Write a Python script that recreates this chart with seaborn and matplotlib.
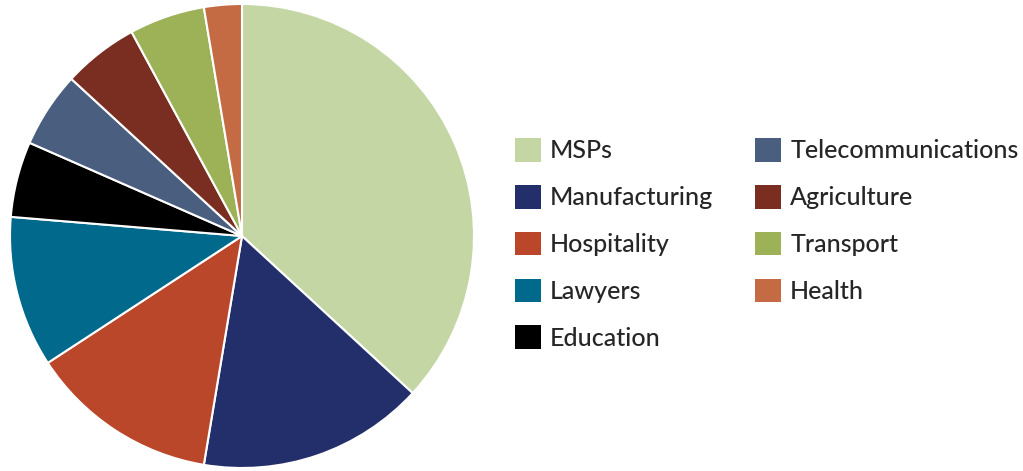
import matplotlib
matplotlib.use("Agg")
import matplotlib.pyplot as plt
import seaborn as sns
from matplotlib.patches import Patch

sectors = ["MSPs", "Manufacturing", "Hospitality", "Lawyers", "Education",
           "Telecommunications", "Agriculture", "Transport", "Health"]
counts = [14, 6, 5, 4, 2, 2, 2, 2, 1]
colors = ["#c5d6a5", "#232f6b", "#bb472b", "#00698c", "#000000",
          "#4a5e80", "#7a2e22", "#9db257", "#c46b44"]

sns.set_theme(style="white")
plt.rcParams["font.family"] = ["Lato", "DejaVu Sans"]

W, H = 1023, 471
fig = plt.figure(figsize=(W / 100, H / 100), dpi=100)
cx, cy, r = 242, 236, 232
ax = fig.add_axes([(cx - r) / W, (H - cy - r) / H, 2 * r / W, 2 * r / H])
ax.pie(counts, colors=colors, startangle=90, counterclock=False, radius=1,
       wedgeprops=dict(edgecolor="white", linewidth=1.5))
ax.set_xlim(-1, 1)
ax.set_ylim(-1, 1)
ax.set_aspect("equal")
ax.axis("off")

handles = [Patch(facecolor=c, edgecolor="none", label=s) for s, c in zip(sectors, colors)]
fs = 18
fig.legend(handles=handles, ncol=2, loc="upper left",
           bbox_to_anchor=(515 / W, 1 - 138 / H), frameon=False,
           prop=dict(size=fs, weight="medium"),
           handlelength=1.04, handleheight=1.08,
           handletextpad=0.36, labelspacing=0.90, columnspacing=1.68,
           borderpad=0, borderaxespad=0)

fig.savefig("out.png", dpi=100, facecolor="white")
